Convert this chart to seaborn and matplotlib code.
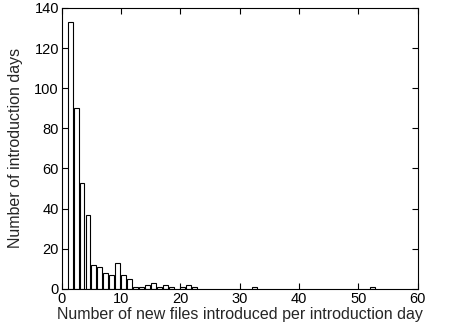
import numpy as np
import pandas as pd
import matplotlib
matplotlib.use("Agg")
import matplotlib.pyplot as plt
import seaborn as sns

# Histogram of new files introduced per introduction day
files_per_day = [1, 2, 3, 4, 5, 6, 7, 8, 9, 10, 11, 12, 13, 14, 15, 16, 17, 18,
                 20, 21, 22, 32, 52]
num_days = [133, 90, 53, 37, 12, 11, 8, 7, 13, 7, 5, 1, 1, 2, 3, 1, 2, 1,
            1, 2, 1, 1, 1]
x_ticks = [0, 10, 20, 30, 40, 50, 60]
y_ticks = [0, 20, 40, 60, 80, 100, 120, 140]

sns.set_style("ticks")
plt.rcParams["font.family"] = ["Liberation Sans", "DejaVu Sans"]
plt.rcParams["xtick.direction"] = "in"
plt.rcParams["ytick.direction"] = "in"

# bin centres sit a little right of the integer counts
df = pd.DataFrame({"files": np.array(files_per_day) + 0.42, "days": num_days})

fig = plt.figure(figsize=(4.49, 3.28), dpi=100)
ax = fig.add_axes([0.1375, 0.119, 0.793, 0.857])

sns.barplot(data=df, x="files", y="days", native_scale=True, width=0.83,
            color="white", saturation=1, edgecolor="black", linewidth=0.8,
            ax=ax)

ax.set_xlim(0, 60)
ax.set_ylim(0, 140)
ax.set_xticks(x_ticks)
ax.set_yticks(y_ticks)
ax.set_xticklabels([str(t) for t in x_ticks])
ax.set_yticklabels([str(t) for t in y_ticks])
ax.tick_params(axis="both", which="both", top=True, right=True, length=4,
               width=0.8, labelsize=10.5, colors="black", pad=2)
for s in ax.spines.values():
    s.set_visible(True)
    s.set_color("black")
    s.set_linewidth(0.8)

ax.set_xlabel("Number of new files introduced per introduction day",
              fontsize=11.5, labelpad=1)
ax.set_ylabel("Number of introduction days", fontsize=11.5, labelpad=8)

fig.savefig("out.png", dpi=100)
